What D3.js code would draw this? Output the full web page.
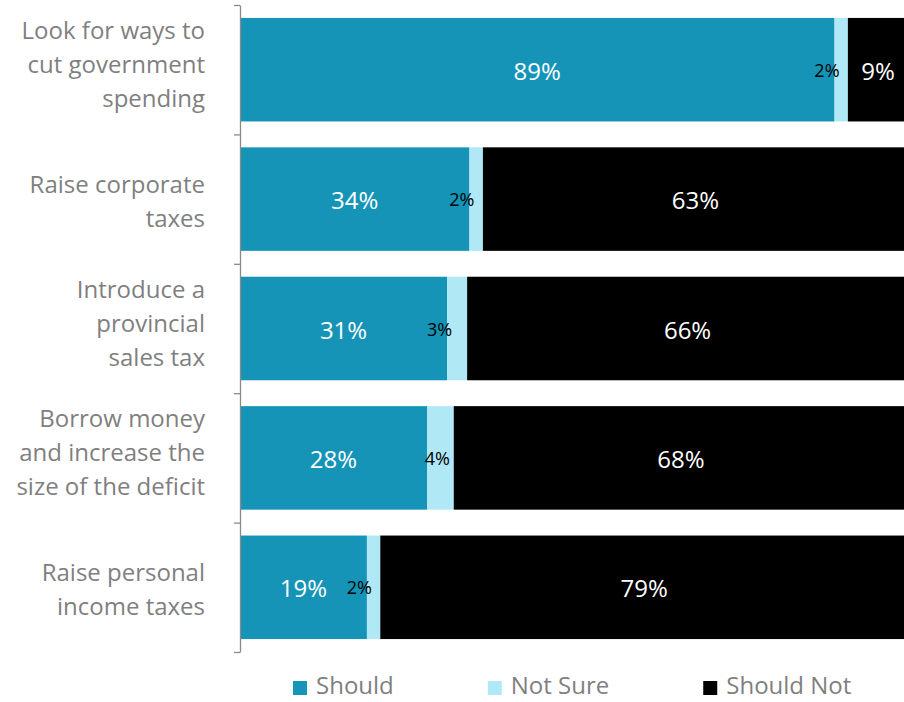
<!DOCTYPE html>
<html>
<head>
<meta charset="utf-8">
<script src="https://cdn.jsdelivr.net/npm/d3@7"></script>
<style>
  html, body { margin: 0; padding: 0; background: #fff; }
  svg { display: block; font-family: "Open Sans", "Noto Sans", sans-serif; }
</style>
</head>
<body>
<svg id="chart" width="904" height="702"></svg>
<script>
// Survey: what should the province do about the deficit?
const categories = [
  "Look for ways to\ncut government\nspending",
  "Raise corporate\ntaxes",
  "Introduce a\nprovincial\nsales tax",
  "Borrow money\nand increase the\nsize of the deficit",
  "Raise personal\nincome taxes"
];
const seriesNames = ["Should", "Not Sure", "Should Not"];
const shouldValues    = [89, 34, 31, 28, 19];
const notSureValues   = [2, 2, 3, 4, 2];
const shouldNotValues = [9, 63, 66, 68, 79];
const seriesColors = ["#1594b8", "#b0e8f6", "#000000"];

(function draw() {
  const svg = d3.select("#chart");
  const W = 904, H = 702;

  // Plot frame
  const plotLeft = 240, plotTop = 5, plotBottom = 652, fullRight = 908;

  const rows = categories.map((c, i) => ({
    cat: c,
    "Should": shouldValues[i],
    "Not Sure": notSureValues[i],
    "Should Not": shouldNotValues[i]
  }));

  // 100% stacked: each row is scaled to its own total
  const stacked = d3.stack().keys(seriesNames).offset(d3.stackOffsetExpand)(rows);

  const x = d3.scaleLinear().domain([0, 1]).range([plotLeft, fullRight]);
  const y = d3.scaleBand().domain(categories).range([plotTop, plotBottom])
    .paddingInner(0.2).paddingOuter(0.1);
  const color = d3.scaleOrdinal().domain(seriesNames).range(seriesColors);

  svg.append("defs").append("clipPath").attr("id", "plotClip")
    .append("rect").attr("x", 0).attr("y", 0).attr("width", W).attr("height", H);

  const plot = svg.append("g").attr("clip-path", "url(#plotClip)");

  // Bars
  const layers = plot.selectAll("g.layer").data(stacked).join("g")
    .attr("class", "layer")
    .attr("fill", d => color(d.key));

  layers.selectAll("rect").data(d => d.map(s => ({ s, key: d.key }))).join("rect")
    .attr("x", d => x(d.s[0]))
    .attr("y", d => y(d.s.data.cat))
    .attr("width", d => x(d.s[1]) - x(d.s[0]))
    .attr("height", y.bandwidth());

  // Value labels
  const labels = plot.append("g");
  stacked.forEach(layer => {
    layer.forEach(s => {
      const v = s.data[layer.key];
      const x0 = x(s[0]), x1 = x(s[1]);
      const cy = y(s.data.cat) + y.bandwidth() / 2;
      if (layer.key === "Not Sure") {
        const wide = (x1 - x0) >= 25;
        labels.append("text")
          .attr("x", wide ? (x0 + x1) / 2 - 3 : x0 + 5)
          .attr("y", cy + 7)
          .attr("text-anchor", wide ? "middle" : "end")
          .attr("font-size", 18)
          .attr("fill", "#000")
          .text(v + "%");
      } else {
        labels.append("text")
          .attr("x", (x0 + x1) / 2)
          .attr("y", cy + 10)
          .attr("text-anchor", "middle")
          .attr("font-size", 24)
          .attr("fill", "#fff")
          .text(v + "%");
      }
    });
  });

  // Category axis with ticks between the bands
  const edge = d3.scaleLinear().domain([0, categories.length]).range([plotTop, plotBottom]);
  const axis = d3.axisLeft(edge)
    .tickValues(d3.range(categories.length + 1))
    .tickSize(6)
    .tickSizeOuter(0)
    .tickFormat("");
  const ag = svg.append("g").attr("transform", `translate(${plotLeft},0)`).call(axis);
  ag.select(".domain").attr("stroke", "#8a8a8a").attr("stroke-width", 1.3);
  ag.selectAll(".tick line").attr("stroke", "#8a8a8a").attr("stroke-width", 1.3);

  // Wrapped category labels, right-aligned
  const lineGap = 34;
  const catG = svg.append("g");
  categories.forEach(c => {
    const lines = c.split("\n");
    const n = lines.length;
    const cy = y(c) + y.bandwidth() / 2;
    const mid = cy + (n === 2 ? 11 : 3);
    const t = catG.append("text")
      .attr("text-anchor", "end")
      .attr("font-size", 24)
      .attr("fill", "#7f7f7f");
    lines.forEach((ln, i) => {
      t.append("tspan")
        .attr("x", 205)
        .attr("y", mid + (i - (n - 1) / 2) * lineGap)
        .text(ln);
    });
  });

  // Legend
  const legend = svg.append("g");
  let lx = 293;
  seriesNames.forEach(name => {
    legend.append("rect")
      .attr("x", lx).attr("y", 681)
      .attr("width", 14).attr("height", 14)
      .attr("fill", color(name));
    const t = legend.append("text")
      .attr("x", lx + 23).attr("y", 694)
      .attr("font-size", 24)
      .attr("fill", "#7f7f7f")
      .text(name);
    lx = lx + 23 + t.node().getComputedTextLength() + 94;
  });
})();
</script>
</body>
</html>
